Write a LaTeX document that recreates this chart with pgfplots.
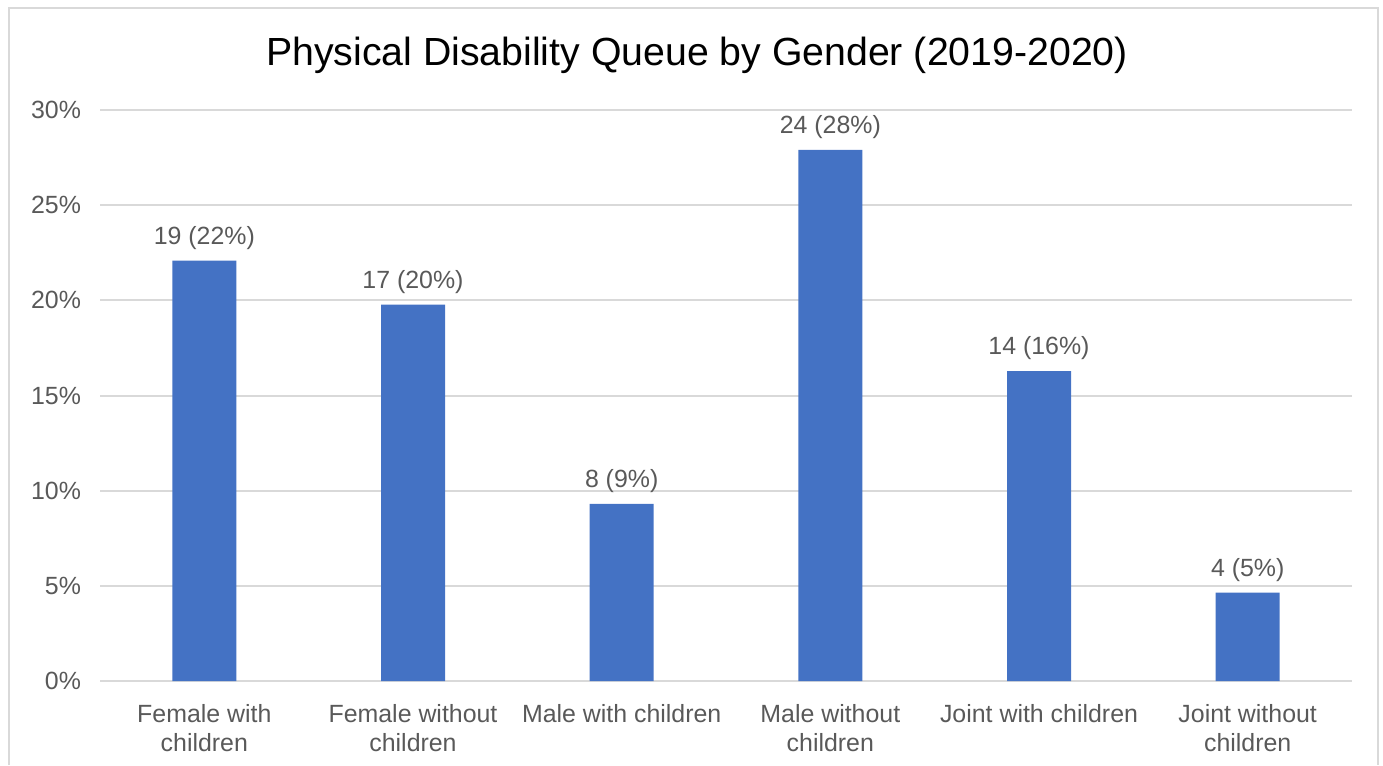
\documentclass[border=0pt]{standalone}
\usepackage{pgfplots}
\pgfplotsset{compat=1.18}
\usepackage{fontspec}
\setmainfont{Liberation Sans}
\definecolor{barblue}{HTML}{4472C4}
\definecolor{txtgray}{HTML}{595959}
\definecolor{gridgray}{HTML}{D9D9D9}
\begin{document}
\begin{tikzpicture}[x=1bp,y=1bp]
\path[use as bounding box] (0,0) rectangle (691.5,382.5);
\draw[gridgray,line width=1.2bp] (4.5,0) -- (4.5,378.5) -- (689,378.5) -- (689,0);
\node[font=\fontsize{19.7}{23}\selectfont,text=black] at (348.5,355) {Physical Disability Queue by Gender (2019-2020)};
\begin{axis}[
  at={(50bp,42bp)}, anchor=south west,
  scale only axis, width=626bp, height=285.5bp,
  xmin=-0.5, xmax=5.5, ymin=0, ymax=30,
  ytick={0,5,10,15,20,25,30},
  yticklabel={\pgfmathprintnumber{\tick}\%},
  /pgf/number format/assume math mode=true,
  xtick={0,1,2,3,4,5},
  xticklabels={{Female with\\children},{Female without\\children},{Male with children},{Male without\\children},{Joint with children},{Joint without\\children}},
  xticklabel style={align=center, text=txtgray, font=\fontsize{12.5}{14.5}\selectfont, yshift=-4bp},
  yticklabel style={text=txtgray, font=\fontsize{12.5}{14.5}\selectfont, xshift=-6bp},
  ymajorgrids, grid style={gridgray, line width=1bp},
  axis line style={draw=none},
  tick style={draw=none},
  ybar, bar width=32bp,
  nodes near coords={\pgfplotspointmeta},
  point meta=explicit symbolic,
  every node near coord/.append style={text=txtgray, font=\fontsize{12.5}{14.5}\selectfont, yshift=2bp},
  clip=false,
]
\addplot[fill=barblue, draw=none] coordinates {
  (0,22.09) [19 (22\%)]
  (1,19.77) [17 (20\%)]
  (2,9.30) [8 (9\%)]
  (3,27.91) [24 (28\%)]
  (4,16.28) [14 (16\%)]
  (5,4.65) [4 (5\%)]
};
\end{axis}
\end{tikzpicture}
\end{document}
